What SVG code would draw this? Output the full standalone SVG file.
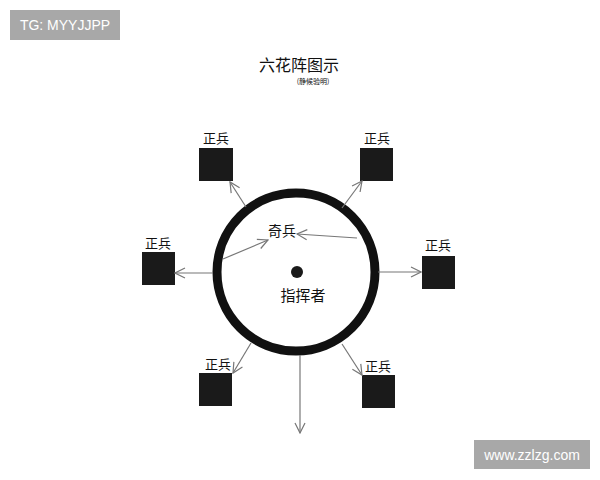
<svg xmlns="http://www.w3.org/2000/svg" width="600" height="480" viewBox="0 0 600 480">
<style>
.lbl{font-family:"Noto Sans CJK SC","Noto Sans CJK JP",sans-serif;fill:#111;text-anchor:middle}
.box{fill:#1a1a1a}
.conn{stroke:#777;stroke-width:1.2;fill:none;marker-end:url(#ah)}
.badge{fill:#a8a8a8}
.bt{font-family:"Liberation Sans",Arial,sans-serif;fill:#fff;font-size:14px;text-anchor:middle}
</style>
<defs>
<marker id="ah" viewBox="0 0 12 12" refX="11" refY="6" markerWidth="12" markerHeight="12" markerUnits="userSpaceOnUse" orient="auto">
<polyline points="1,1 11,6 1,11" fill="none" stroke="#777" stroke-width="1.2"/>
</marker>
</defs>
<rect width="600" height="480" fill="#fff"/>
<g id="badge-tg"><rect class="badge" x="10" y="10" width="110" height="30"/><text class="bt" x="65" y="30">TG: MYYJJPP</text></g>
<g id="title"><text class="lbl" x="299" y="71" font-size="16">六花阵图示</text><text class="lbl" x="313" y="84" font-size="7">(静候验明)</text></g>
<g id="ring"><circle cx="296" cy="272" r="79" fill="none" stroke="#111" stroke-width="9"/></g>
<g id="commander"><circle cx="297" cy="272" r="6" fill="#1a1a1a"/><text class="lbl" x="303" y="301" font-size="15">指挥者</text></g>
<g id="qibing"><text class="lbl" x="282" y="236" font-size="14">奇兵</text></g>
<g id="zb-tl"><text class="lbl" x="216" y="143" font-size="13">正兵</text><rect class="box" x="199" y="148" width="34" height="33"/></g>
<g id="zb-tr"><text class="lbl" x="377" y="143" font-size="13">正兵</text><rect class="box" x="360" y="148" width="33" height="33"/></g>
<g id="zb-l"><text class="lbl" x="158" y="248" font-size="13">正兵</text><rect class="box" x="142" y="252" width="33" height="33"/></g>
<g id="zb-r"><text class="lbl" x="438" y="250" font-size="13">正兵</text><rect class="box" x="422" y="256" width="33" height="33"/></g>
<g id="zb-bl"><text class="lbl" x="218" y="369" font-size="13">正兵</text><rect class="box" x="199" y="373" width="33" height="33"/></g>
<g id="zb-br"><text class="lbl" x="378" y="371" font-size="13">正兵</text><rect class="box" x="362" y="375" width="33" height="33"/></g>
<g id="connectors">
<line class="conn" x1="246" y1="207" x2="230" y2="182"/>
<line class="conn" x1="342" y1="208" x2="362" y2="181"/>
<line class="conn" x1="213" y1="273" x2="175" y2="273"/>
<line class="conn" x1="378" y1="272" x2="421" y2="272"/>
<line class="conn" x1="251" y1="343" x2="233" y2="373"/>
<line class="conn" x1="342" y1="344" x2="362" y2="375"/>
<line class="conn" x1="300" y1="355" x2="300" y2="433"/>
<line class="conn" x1="357" y1="238" x2="297" y2="234"/>
<line class="conn" x1="223" y1="259" x2="268" y2="240"/>
</g>
<g id="badge-url"><rect class="badge" x="474" y="440" width="116" height="29"/><text class="bt" x="532" y="460">www.zzlzg.com</text></g>
</svg>
